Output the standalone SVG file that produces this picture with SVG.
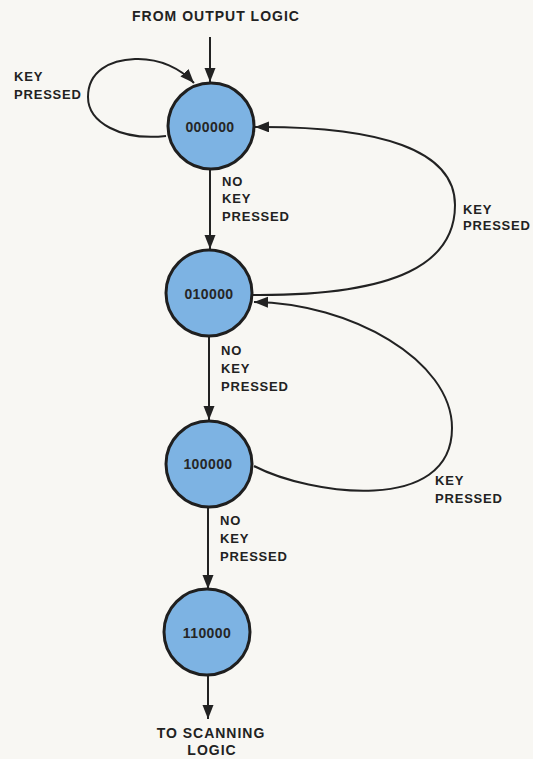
<svg xmlns="http://www.w3.org/2000/svg" width="533" height="759" viewBox="0 0 533 759">
<style>
.bg{fill:#f8f7f3}
.node circle{fill:#7db3e3;stroke:#1f1f1f;stroke-width:3}
.node text{font-family:"Liberation Sans",Arial,sans-serif;font-weight:bold;font-size:14px;fill:#262626;text-anchor:middle;letter-spacing:0.4px}
.lbl{font-family:"Liberation Sans",Arial,sans-serif;font-weight:bold;font-size:13px;fill:#222;letter-spacing:0.8px}
.big{font-size:14px;letter-spacing:1px;text-anchor:middle}
#connectors path{fill:none;stroke:#222;stroke-width:2}
</style>
<defs>
<marker id="ah" markerUnits="userSpaceOnUse" markerWidth="15" markerHeight="12" refX="14" refY="5.5" orient="auto">
<path d="M0,0 L14,5.5 L0,11 Z" fill="#222"/>
</marker>
</defs>
<rect class="bg" x="0" y="0" width="533" height="759"/>

<g id="connectors">
<path d="M210,37 L210,82" marker-end="url(#ah)"/>
<path d="M166,136 C120,141 88,122 88,97 C88,71 110,60 135,59 C160,58 181,69 194,83" marker-end="url(#ah)"/>
<path d="M210,169 L210,249" marker-end="url(#ah)"/>
<path d="M253,295 C400,296 455,262 455,205 C455,150 380,126 255,127" marker-end="url(#ah)"/>
<path d="M209,336 L209,420" marker-end="url(#ah)"/>
<path d="M254,466 C310,495 452,515 452,428 C452,360 350,303 254,302" marker-end="url(#ah)"/>
<path d="M208,507 L208,589" marker-end="url(#ah)"/>
<path d="M208,675 L208,719" marker-end="url(#ah)"/>
</g>

<g id="node-000000" class="node">
<circle cx="211" cy="126" r="43"/>
<text x="210" y="132">000000</text>
</g>
<g id="node-010000" class="node">
<circle cx="209" cy="293" r="43"/>
<text x="209" y="299">010000</text>
</g>
<g id="node-100000" class="node">
<circle cx="209" cy="464" r="43"/>
<text x="208" y="469">100000</text>
</g>
<g id="node-110000" class="node">
<circle cx="207" cy="632" r="43"/>
<text x="207" y="638">110000</text>
</g>

<g id="labels">
<text class="lbl big" x="216" y="21">FROM OUTPUT LOGIC</text>
<text class="lbl" x="14" y="81">KEY</text>
<text class="lbl" x="14" y="99">PRESSED</text>
<text class="lbl" x="222" y="186">NO</text>
<text class="lbl" x="222" y="203">KEY</text>
<text class="lbl" x="222" y="221">PRESSED</text>
<text class="lbl" x="463" y="214">KEY</text>
<text class="lbl" x="463" y="230">PRESSED</text>
<text class="lbl" x="221" y="355">NO</text>
<text class="lbl" x="221" y="373">KEY</text>
<text class="lbl" x="221" y="391">PRESSED</text>
<text class="lbl" x="435" y="485">KEY</text>
<text class="lbl" x="435" y="503">PRESSED</text>
<text class="lbl" x="220" y="525">NO</text>
<text class="lbl" x="220" y="543">KEY</text>
<text class="lbl" x="220" y="561">PRESSED</text>
<text class="lbl big" x="211" y="738">TO SCANNING</text>
<text class="lbl big" x="212" y="755">LOGIC</text>
</g>
</svg>
